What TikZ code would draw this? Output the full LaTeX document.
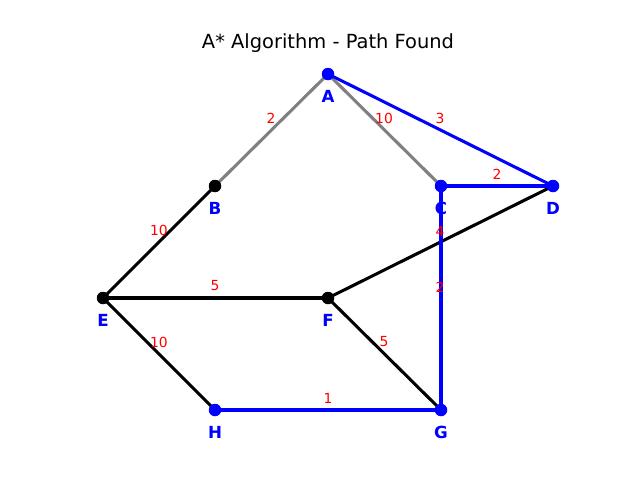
\documentclass[tikz,border=0pt]{standalone}
\usepackage{fontspec}
\setmainfont{DejaVu Sans}
\begin{document}
\begin{tikzpicture}[x=0.72pt,y=-0.72pt,
  vtx/.style={circle,inner sep=0pt,minimum size=9pt},
  vlab/.style={text=blue,font=\fontsize{12}{14}\selectfont\bfseries,inner sep=0pt},
  wlab/.style={text=red,font=\fontsize{10}{12}\selectfont,inner sep=0pt},
  edge/.style={line width=2.2pt},
  gedge/.style={edge,draw=gray},
  kedge/.style={edge,draw=black},
  bedge/.style={edge,draw=blue}]
\useasboundingbox[fill=white] (0,0) rectangle (640,480);
\node[font=\fontsize{14}{16}\selectfont] (title) at (328,43) {A* Algorithm - Path Found};
% vertices (positions)
\node[vtx] (A) at (328,74) {};
\node[vtx] (B) at (215,186) {};
\node[vtx] (C) at (441,186) {};
\node[vtx] (D) at (553,186) {};
\node[vtx] (E) at (103,298) {};
\node[vtx] (F) at (328,298) {};
\node[vtx] (G) at (441,410) {};
\node[vtx] (H) at (215,410) {};
% edges
\draw[gedge] (A.center) -- (B.center);
\draw[gedge] (A.center) -- (C.center);
\draw[kedge] (B.center) -- (E.center);
\draw[kedge] (E.center) -- (F.center);
\draw[kedge] (E.center) -- (H.center);
\draw[kedge] (F.center) -- (G.center);
\draw[kedge] (D.center) -- (F.center);
\draw[bedge] (A.center) -- (D.center);
\draw[bedge] (C.center) -- (D.center);
\draw[bedge] (C.center) -- (G.center);
\draw[bedge] (H.center) -- (G.center);
% vertex dots on top
\foreach \n/\c in {A/blue,B/black,C/blue,D/blue,E/black,F/black,G/blue,H/blue}{
  \fill[\c] (\n.center) circle[radius=4.5pt];
}
% edge weights
\node[wlab] (wAB) at (271,118) {2};
\node[wlab] (wAC) at (384,118) {10};
\node[wlab] (wAD) at (440,118) {3};
\node[wlab] (wCD) at (497,174) {2};
\node[wlab] (wDF) at (440,231) {4};
\node[wlab] (wCG) at (440,287) {2};
\node[wlab] (wBE) at (159,230) {10};
\node[wlab] (wEF) at (215,286) {5};
\node[wlab] (wEH) at (159,342) {10};
\node[wlab] (wFG) at (384,342) {5};
\node[wlab] (wHG) at (328,398) {1};
% vertex labels
\node[vlab] (lA) at (328,96) {A};
\node[vlab] (lB) at (215,208) {B};
\node[vlab] (lC) at (441,208) {C};
\node[vlab] (lD) at (553,208) {D};
\node[vlab] (lE) at (103,320) {E};
\node[vlab] (lF) at (328,320) {F};
\node[vlab] (lG) at (441,432) {G};
\node[vlab] (lH) at (215,432) {H};
\end{tikzpicture}
\end{document}
